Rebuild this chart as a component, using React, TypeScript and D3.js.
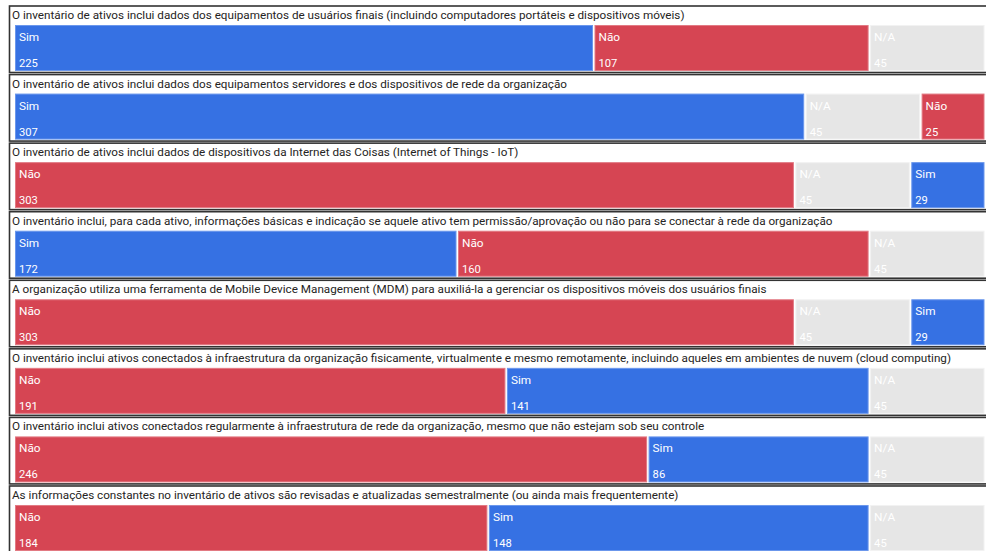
import React, { useEffect, useRef } from 'react';
import * as d3 from 'd3';

const questions = [
  'O inventário de ativos inclui dados dos equipamentos de usuários finais (incluindo computadores portáteis e dispositivos móveis)',
  'O inventário de ativos inclui dados dos equipamentos servidores e dos dispositivos de rede da organização',
  'O inventário de ativos inclui dados de dispositivos da Internet das Coisas (Internet of Things - IoT)',
  'O inventário inclui, para cada ativo, informações básicas e indicação se aquele ativo tem permissão/aprovação ou não para se conectar à rede da organização',
  'A organização utiliza uma ferramenta de Mobile Device Management (MDM) para auxiliá-la a gerenciar os dispositivos móveis dos usuários finais',
  'O inventário inclui ativos conectados à infraestrutura da organização fisicamente, virtualmente e mesmo remotamente, incluindo aqueles em ambientes de nuvem (cloud computing)',
  'O inventário inclui ativos conectados regularmente à infraestrutura de rede da organização, mesmo que não estejam sob seu controle',
  'As informações constantes no inventário de ativos são revisadas e atualizadas semestralmente (ou ainda mais frequentemente)',
];

const answers = ['Sim', 'Não', 'N/A'];
const simValues = [225, 307, 29, 172, 29, 141, 86, 148];
const naoValues = [107, 25, 303, 160, 303, 191, 246, 184];
const naValues = [45, 45, 45, 45, 45, 45, 45, 45];

const fills: Record<string, string> = { Sim: '#3671E3', 'Não': '#D64553', 'N/A': '#E6E6E6' };
const strokes: Record<string, string> = { Sim: '#6B97EC', 'Não': '#E27A84', 'N/A': '#F2F2F2' };

const W = 986;
const H = 551;

const App: React.FC = () => {
  const svgRef = useRef<SVGSVGElement>(null);

  useEffect(() => {
    if (!svgRef.current) return;
    const svg = d3.select(svgRef.current).html('');

    const rows = questions.map((q, i) => {
      const vals = [simValues[i], naoValues[i], naValues[i]];
      const segs = answers
        .map((a, j) => ({ answer: a, value: vals[j] }))
        .sort((a, b) => b.value - a.value);
      let acc = 0;
      const stacked = segs.map(s => {
        const r = { ...s, x0: acc, x1: acc + s.value };
        acc += s.value;
        return r;
      });
      return { question: q, segs: stacked, total: acc };
    });

    const total = d3.max(rows, r => r.total) as number;
    const x = d3.scaleLinear().domain([0, total]).range([15, 986]);
    const panelTop = d3.scaleLinear().domain([0, 1]).range([6, 6 + 68.57]);

    const font = 'Roboto, "Noto Sans", sans-serif';

    rows.forEach((row, i) => {
      const y0 = panelTop(i);
      const g = svg.append('g');

      // panel frame
      g.append('rect')
        .attr('x', 9.5)
        .attr('y', y0)
        .attr('width', 990)
        .attr('height', 66.5)
        .attr('fill', '#fff')
        .attr('stroke', '#333')
        .attr('stroke-width', 1.6);

      g.append('text')
        .attr('x', 12)
        .attr('y', y0 + 13)
        .attr('fill', '#252423')
        .attr('font-family', font)
        .attr('font-size', '11.7px')
        .text(row.question);

      const barTop = y0 + 19;
      const barH = 46;

      row.segs.forEach(s => {
        const sx = x(s.x0);
        const sw = x(s.x1) - x(s.x0) - 1.5;
        g.append('rect')
          .attr('x', sx + 0.5)
          .attr('y', barTop + 0.5)
          .attr('width', Math.max(0, sw - 1))
          .attr('height', barH - 1)
          .attr('fill', fills[s.answer])
          .attr('stroke', strokes[s.answer])
          .attr('stroke-width', 1);
        g.append('text')
          .attr('x', sx + 4)
          .attr('y', barTop + 16)
          .attr('fill', '#fff')
          .attr('font-family', font)
          .attr('font-size', '11.8px')
          .text(s.answer);
        g.append('text')
          .attr('x', sx + 4)
          .attr('y', barTop + 42)
          .attr('fill', '#fff')
          .attr('font-family', font)
          .attr('font-size', '11.2px')
          .text(s.value);
      });
    });
  }, []);

  return (
    <div style={{ position: 'fixed', left: 0, top: 0, width: W, height: H, background: '#fff' }}>
      <svg ref={svgRef} width={W} height={H} style={{ display: 'block' }}></svg>
    </div>
  );
};

export default App;
